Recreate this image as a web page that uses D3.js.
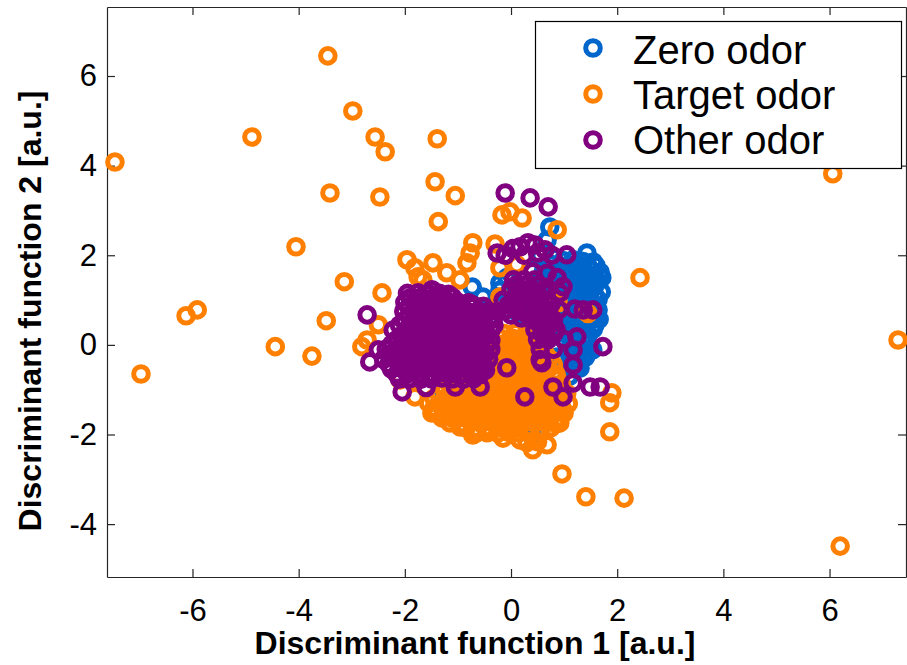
<!DOCTYPE html>
<html>
<head>
<meta charset="utf-8">
<script src="https://cdn.jsdelivr.net/npm/d3@7"></script>
<style>
  body { margin: 0; background: #fff; }
  text { font-family: "Liberation Sans", Arial, sans-serif; }
</style>
</head>
<body>
<svg id="chart" width="907" height="665"></svg>
<script>
var seriesNames = ['Zero odor', 'Target odor', 'Other odor'];
var xTicks = [-6, -4, -2, 0, 2, 4, 6];
var yTicks = [-4, -2, 0, 2, 4, 6];
var xLabel = 'Discriminant function 1 [a.u.]';
var yLabel = 'Discriminant function 2 [a.u.]';

// [function 1, function 2]
var zeroOdor = [
  [0.73,2.63],[0.68,2.34],[1.43,2.05],[1.71,1.5],[0.55,2.0],[0.75,1.8],
  [-0.73,1.29],[-0.53,1.07],[-0.55,0.85],[-0.21,1.38],[-0.08,1.5],[-0.21,1.22],[-0.28,0.88],[-0.4,0.6],
  [1.64,0.78],[1.54,-0.11],[0.87,-0.27],[0.9,-0.62],[1.43,-0.2],[1.24,-0.48],[0.55,0.11],[0.6,-0.15],
  [-1.3,-0.96],[0.36,-0.18],[0.79,-1.45],[0.41,-2.05],[0.2,-1.0],[0.5,-0.6],
  [0.6,1.45],[0.75,1.6],[0.72,1.3],[0.8,1.15],[0.62,1.75],[0.8,1.95],[0.6,1.1],
  [0.98,1.88],[1.17,1.9],[1.36,1.86],[1.55,1.85],
  [1.07,1.77],[1.26,1.78],[1.45,1.76],[1.6,1.77],
  [0.92,1.66],[1.1,1.68],[1.3,1.64],[1.5,1.67],[1.68,1.62],
  [0.98,1.55],[1.18,1.56],[1.38,1.54],[1.58,1.55],
  [0.85,1.44],[1.05,1.45],[1.24,1.42],[1.44,1.46],[1.62,1.4],
  [0.98,1.33],[1.18,1.34],[1.38,1.32],[1.58,1.33],
  [0.9,1.22],[1.1,1.2],[1.3,1.24],[1.5,1.21],[1.7,1.18],
  [0.98,1.11],[1.18,1.1],[1.38,1.12],[1.58,1.11],
  [0.88,1.0],[1.07,0.98],[1.26,1.02],[1.45,0.99],[1.64,1.01],
  [0.98,0.89],[1.18,0.9],[1.38,0.88],[1.58,0.89],
  [0.95,0.78],[1.15,0.8],[1.35,0.76],[1.55,0.8],
  [1.0,0.67],[1.2,0.68],[1.4,0.66],[1.6,0.67],
  [0.9,0.56],[1.1,0.55],[1.3,0.58],[1.5,0.54],[1.66,0.57],
  [1.0,0.45],[1.2,0.46],[1.4,0.44],[1.58,0.45],
  [0.95,0.34],[1.15,0.36],[1.35,0.32],[1.55,0.35],
  [1.05,0.23],[1.25,0.24],[1.45,0.22],
  [1.0,0.12],[1.2,0.14],[1.4,0.1],[1.2,0.01],[1.4,0.02],[1.1,-0.1],[1.3,-0.08],
  [1.1,-0.2],[1.3,-0.19],
  [1.0,-0.3],[1.2,-0.32],[1.4,-0.28],[1.05,-0.5],[1.3,-0.52],[1.1,-0.7],
  [0.4,1.7],[0.6,1.6],[0.5,1.3],[0.7,1.0],[0.4,0.9],[0.6,0.6],[0.3,0.6],[0.7,0.3],
  [0.45,0.35],[0.2,1.1],[-0.05,1.15],[0.1,0.75]
];

var targetOdor = [
  [-7.46,4.08],[-4.88,4.64],[-3.45,6.45],[-2.98,5.22],[-2.56,4.64],[-2.37,4.31],[-1.39,4.6],
  [-3.41,3.39],[-2.47,3.3],[-1.43,3.64],[-1.05,3.33],[-1.37,2.75],[-4.05,2.19],[-3.14,1.41],
  [-6.12,0.65],[-5.91,0.78],[-3.48,0.54],[-4.44,-0.04],[-3.75,-0.25],[-6.97,-0.65],[-2.43,1.16],
  [-1.96,1.9],[-1.81,1.72],[-1.47,1.83],[-0.72,2.28],[-0.17,2.9],[-0.02,2.97],[0.21,2.83],
  [0.87,2.57],[2.43,1.5],[6.06,3.82],[7.29,0.11],[6.2,-4.49],[2.13,-3.42],[1.41,-3.39],
  [0.96,-2.88],[1.86,-1.94],[1.86,-1.29],[1.9,-1.07],[-0.21,1.72],[-2.71,0.11],[-2.81,-0.04],
  [-2.5,0.45],[-2.09,-0.78],[-1.81,-1.16],[-1.49,-1.52],[-0.96,-1.83],[-0.72,-2.01],[-0.45,-1.96],
  [-0.15,-2.08],[0.17,-2.12],[0.41,-2.34],[0.68,-2.23],[0.92,-1.74],[0.98,-1.45],
  [-0.96,1.45],[-1.66,1.45],[-1.75,1.52],[-1.21,1.61],[-0.83,1.83],[-0.77,2.05],[0.11,1.79],
  [-0.3,2.25],[-0.21,1.07],[0.89,0.94],[1.4,0.75],[1.45,0.7],
  [-0.12,0.25],[0.08,0.27],[0.28,0.24],
  [-0.18,0.14],[0.02,0.15],[0.22,0.13],[0.42,0.14],
  [-0.28,0.03],[-0.08,0.05],[0.12,0.02],[0.32,0.04],[0.5,0.01],
  [-0.25,-0.08],[-0.05,-0.09],[0.15,-0.07],[0.35,-0.08],[0.55,-0.1],
  [-0.35,-0.2],[-0.15,-0.18],[0.05,-0.21],[0.25,-0.19],[0.45,-0.22],[0.65,-0.2],
  [-0.45,-0.31],[-0.25,-0.3],[-0.05,-0.32],[0.15,-0.31],[0.35,-0.29],[0.55,-0.32],[0.72,-0.31],
  [-0.6,-0.42],[-0.4,-0.44],[-0.2,-0.41],[0.0,-0.43],[0.2,-0.4],[0.4,-0.44],[0.6,-0.42],[0.8,-0.45],
  [-0.7,-0.53],[-0.5,-0.54],[-0.3,-0.52],[-0.1,-0.53],[0.1,-0.55],[0.3,-0.53],[0.5,-0.52],[0.7,-0.54],
  [-0.8,-0.64],[-0.6,-0.66],[-0.4,-0.63],[-0.2,-0.65],[0.0,-0.62],[0.2,-0.66],[0.4,-0.64],[0.6,-0.63],[0.85,-0.65],
  [-0.95,-0.75],[-0.75,-0.76],[-0.55,-0.74],[-0.35,-0.75],[-0.15,-0.77],[0.05,-0.75],[0.25,-0.74],
  [0.45,-0.76],[0.65,-0.75],[0.85,-0.76],
  [-1.1,-0.86],[-0.9,-0.88],[-0.7,-0.85],[-0.5,-0.87],[-0.3,-0.84],[-0.1,-0.88],[0.1,-0.86],[0.3,-0.85],
  [0.5,-0.88],[0.7,-0.86],[0.95,-0.87],
  [-1.25,-0.97],[-1.05,-0.98],[-0.85,-0.96],[-0.65,-0.97],[-0.45,-0.99],[-0.25,-0.97],[-0.05,-0.96],
  [0.15,-0.98],[0.35,-0.97],[0.55,-0.96],[0.75,-0.98],[0.95,-0.97],
  [-1.35,-1.08],[-1.15,-1.1],[-0.95,-1.07],[-0.75,-1.09],[-0.55,-1.06],[-0.35,-1.1],[-0.15,-1.08],
  [0.05,-1.07],[0.25,-1.1],[0.45,-1.08],[0.65,-1.06],[0.85,-1.09],[1.05,-1.08],
  [-1.45,-1.19],[-1.25,-1.2],[-1.05,-1.18],[-0.85,-1.19],[-0.65,-1.21],[-0.45,-1.19],[-0.25,-1.18],
  [-0.05,-1.2],[0.15,-1.19],[0.35,-1.18],[0.55,-1.2],[0.75,-1.19],[0.95,-1.21],
  [-1.55,-1.3],[-1.35,-1.32],[-1.15,-1.29],[-0.95,-1.31],[-0.75,-1.28],[-0.55,-1.32],[-0.35,-1.3],
  [-0.15,-1.29],[0.05,-1.31],[0.25,-1.3],[0.45,-1.32],[0.65,-1.28],[0.85,-1.3],[1.08,-1.31],
  [-1.45,-1.41],[-1.25,-1.42],[-1.05,-1.4],[-0.85,-1.41],[-0.65,-1.43],[-0.45,-1.41],[-0.25,-1.4],
  [-0.05,-1.42],[0.15,-1.41],[0.35,-1.4],[0.55,-1.42],[0.75,-1.41],[0.95,-1.43],
  [-1.4,-1.52],[-1.2,-1.54],[-1.0,-1.51],[-0.8,-1.53],[-0.6,-1.5],[-0.4,-1.54],[-0.2,-1.52],
  [0.0,-1.51],[0.2,-1.53],[0.4,-1.52],[0.6,-1.5],[0.8,-1.54],[1.0,-1.52],
  [-1.3,-1.63],[-1.1,-1.64],[-0.9,-1.62],[-0.7,-1.63],[-0.5,-1.65],[-0.3,-1.63],[-0.1,-1.62],
  [0.1,-1.64],[0.3,-1.63],[0.5,-1.62],[0.7,-1.64],[0.9,-1.63],
  [-1.15,-1.74],[-0.95,-1.76],[-0.75,-1.73],[-0.55,-1.75],[-0.35,-1.72],[-0.15,-1.76],[0.05,-1.74],
  [0.25,-1.73],[0.45,-1.75],[0.65,-1.74],[0.85,-1.76],
  [-0.85,-1.85],[-0.65,-1.86],[-0.45,-1.84],[-0.25,-1.85],[-0.05,-1.87],[0.15,-1.85],[0.35,-1.84],
  [0.55,-1.86],[0.75,-1.85],
  [-0.65,-1.96],[-0.45,-1.94],[-0.25,-1.97],[-0.05,-1.95],[0.15,-1.96],[0.35,-1.98],[0.55,-1.95],
  [0.3,-2.18],[0.5,-2.16]
];

var otherOdor = [
  [-0.11,3.39],[0.36,3.28],[0.7,3.08],
  [-0.26,2.05],[-0.11,2.0],[0.04,2.15],[0.17,2.19],[0.32,2.28],[0.45,2.23],[0.64,2.12],
  [0.77,2.0],[1.05,2.01],[0.25,2.0],[0.5,2.05],
  [0.41,1.63],[0.68,1.6],[0.87,1.5],[0.98,1.3],[0.68,1.23],[0.92,1.16],
  [1.2,0.8],[1.36,0.78],[1.54,0.78],[1.73,-0.04],[1.24,0.18],[1.17,-0.11],[1.17,-0.45],[1.17,-0.85],
  [0.79,-0.94],[1.49,-0.94],[1.68,-0.94],[0.98,-1.16],[0.26,-1.16],[0.55,-0.33],[0.58,-0.4],
  [-0.08,-0.51],
  [0.05,1.45],[0.25,1.45],[0.45,1.45],
  [0.1,1.34],[0.3,1.35],[0.5,1.33],
  [0.0,1.23],[0.2,1.23],[0.4,1.23],[0.6,1.23],
  [0.1,1.12],[0.3,1.11],[0.5,1.13],
  [-0.15,1.0],[0.05,1.0],[0.25,1.0],[0.45,1.0],[0.65,1.0],
  [-0.05,0.89],[0.15,0.9],[0.35,0.88],[0.55,0.89],[0.75,0.9],
  [-0.1,0.78],[0.1,0.78],[0.3,0.78],[0.5,0.78],[0.7,0.78],[0.9,0.78],
  [0.0,0.67],[0.3,0.68],[0.5,0.66],[0.7,0.67],
  [0.2,0.6],[0.4,0.56],[0.6,0.56],[0.8,0.56],
  [0.55,0.45],[0.75,0.46],
  [0.45,0.34],[0.65,0.34],[0.85,0.34],
  [0.6,0.23],[0.8,0.24],
  [0.5,0.12],[0.7,0.12],[1.0,0.12],[0.55,-0.1],[0.8,-0.1],
  [-2.71,0.67],[-2.5,-0.11],[-2.66,-0.38],[-2.05,-1.05],[-1.49,1.23],[-1.05,0.94],[-0.72,0.89],
  [-1.05,-0.94],[-0.58,-0.94],[-1.6,-0.95],[-2.22,0.33],
  [-1.95,1.15],[-1.75,1.16],[-1.55,1.14],[-1.35,1.15],[-1.18,1.13],
  [-1.9,1.05],[-1.7,1.06],[-1.5,1.04],[-1.3,1.05],[-1.1,1.06],
  [-2.0,0.95],[-1.8,0.96],[-1.6,0.94],[-1.4,0.95],[-1.2,0.97],[-1.0,0.95],[-0.8,0.94],
  [-1.92,0.85],[-1.72,0.86],[-1.52,0.84],[-1.32,0.85],[-1.12,0.86],[-0.92,0.84],[-0.72,0.85],[-0.52,0.86],
  [-2.02,0.75],[-1.82,0.76],[-1.62,0.74],[-1.42,0.75],[-1.22,0.77],[-1.02,0.75],[-0.82,0.74],
  [-0.62,0.76],[-0.42,0.75],
  [-1.92,0.65],[-1.72,0.66],[-1.52,0.64],[-1.32,0.65],[-1.12,0.66],[-0.92,0.64],[-0.72,0.65],
  [-0.52,0.66],[-0.32,0.64],
  [-2.0,0.55],[-1.8,0.54],[-1.6,0.56],[-1.4,0.55],[-1.2,0.53],[-1.0,0.55],[-0.8,0.56],[-0.6,0.54],[-0.4,0.55],
  [-2.1,0.44],[-1.9,0.45],[-1.7,0.43],[-1.5,0.44],[-1.3,0.45],[-1.1,0.43],[-0.9,0.44],[-0.7,0.45],
  [-0.5,0.43],[-0.32,0.44],
  [-1.95,0.33],[-1.75,0.34],[-1.55,0.32],[-1.35,0.33],[-1.15,0.35],[-0.95,0.33],[-0.75,0.32],
  [-0.55,0.34],[-0.38,0.33],
  [-2.05,0.22],[-1.85,0.23],[-1.65,0.21],[-1.45,0.22],[-1.25,0.24],[-1.05,0.22],[-0.85,0.21],
  [-0.65,0.23],[-0.45,0.22],
  [-2.15,0.12],[-1.95,0.13],[-1.75,0.11],[-1.55,0.12],[-1.35,0.14],[-1.15,0.12],[-0.95,0.11],
  [-0.75,0.13],[-0.55,0.12],[-0.38,0.1],
  [-2.25,0.01],[-2.05,0.02],[-1.85,0.0],[-1.65,0.01],[-1.45,0.03],[-1.25,0.01],[-1.05,0.0],
  [-0.85,0.02],[-0.65,0.01],[-0.45,0.0],
  [-2.35,-0.1],[-2.15,-0.09],[-1.95,-0.11],[-1.75,-0.1],[-1.55,-0.08],[-1.35,-0.1],[-1.15,-0.11],
  [-0.95,-0.09],[-0.75,-0.1],[-0.55,-0.12],[-0.38,-0.1],
  [-2.3,-0.21],[-2.1,-0.2],[-1.9,-0.22],[-1.7,-0.21],[-1.5,-0.19],[-1.3,-0.21],[-1.1,-0.22],
  [-0.9,-0.2],[-0.7,-0.21],[-0.5,-0.23],
  [-2.4,-0.32],[-2.2,-0.31],[-2.0,-0.33],[-1.8,-0.32],[-1.6,-0.3],[-1.4,-0.32],[-1.2,-0.33],
  [-1.0,-0.31],[-0.8,-0.32],[-0.6,-0.34],[-0.42,-0.32],
  [-2.3,-0.43],[-2.1,-0.42],[-1.9,-0.44],[-1.7,-0.43],[-1.5,-0.41],[-1.3,-0.43],[-1.1,-0.44],
  [-0.9,-0.42],[-0.7,-0.43],[-0.52,-0.45],
  [-2.25,-0.54],[-2.05,-0.53],[-1.85,-0.55],[-1.65,-0.54],[-1.45,-0.52],[-1.25,-0.54],[-1.05,-0.55],
  [-0.85,-0.53],[-0.65,-0.54],[-0.48,-0.56],
  [-2.15,-0.65],[-1.95,-0.64],[-1.75,-0.66],[-1.55,-0.65],[-1.35,-0.63],[-1.15,-0.65],[-0.95,-0.66],
  [-0.75,-0.64],[-0.58,-0.66],
  [-2.1,-0.76],[-1.9,-0.75],[-1.7,-0.77],[-1.5,-0.76],[-1.3,-0.74],[-1.1,-0.76],[-0.9,-0.77],[-0.7,-0.75]
];

var colours = ['#0066cc', '#ff8000', '#800080'];
var series = [zeroOdor, targetOdor, otherOdor];

var width = 907,
  height = 665,
  margin = { top: 7, right: 1, bottom: 88, left: 107 },
  markerRadius = 7.3,
  axisColour = '#262626';

var svg = d3.select('#chart');

svg.append('rect')
  .attr('width', width)
  .attr('height', height)
  .attr('fill', '#fff');

var x = d3.scaleLinear()
  .domain([-7.61, 7.44])
  .range([margin.left, width - margin.right]);

var y = d3.scaleLinear()
  .domain([-5.18, 7.54])
  .range([height - margin.bottom, margin.top]);

var fmt = function(d) { return String(d); };

// box with inward ticks on all four sides
var gBottom = svg.append('g')
  .attr('transform', 'translate(0,' + y.range()[0] + ')')
  .call(d3.axisBottom(x).tickValues(xTicks).tickSizeInner(-8).tickSizeOuter(0).tickPadding(22).tickFormat(fmt));
var gTop = svg.append('g')
  .attr('transform', 'translate(0,' + y.range()[1] + ')')
  .call(d3.axisTop(x).tickValues(xTicks).tickSizeInner(-8).tickSizeOuter(0).tickFormat(''));
var gLeft = svg.append('g')
  .attr('transform', 'translate(' + x.range()[0] + ',0)')
  .call(d3.axisLeft(y).tickValues(yTicks).tickSizeInner(-8).tickSizeOuter(0).tickPadding(10).tickFormat(fmt));
var gRight = svg.append('g')
  .attr('transform', 'translate(' + x.range()[1] + ',0)')
  .call(d3.axisRight(y).tickValues(yTicks).tickSizeInner(-8).tickSizeOuter(0).tickFormat(''));

[gBottom, gTop, gLeft, gRight].forEach(function(g) {
  g.attr('font-family', null).attr('font-size', null);
  g.selectAll('path, line').attr('stroke', axisColour).attr('stroke-width', 1.2);
  g.selectAll('text').attr('fill', '#000').style('font-size', '31px');
});

// points, drawn in legend order
series.forEach(function(data, i) {
  svg.append('g')
    .selectAll('circle')
    .data(data)
    .enter()
    .append('circle')
    .attr('cx', function(d) { return x(d[0]); })
    .attr('cy', function(d) { return y(d[1]); })
    .attr('r', markerRadius)
    .attr('fill', 'none')
    .attr('stroke', colours[i])
    .attr('stroke-width', 5);
});

svg.append('text')
  .attr('x', 475)
  .attr('y', 654)
  .attr('text-anchor', 'middle')
  .style('font-size', '32px')
  .style('font-weight', 'bold')
  .text(xLabel);

svg.append('text')
  .attr('transform', 'translate(41,311) rotate(-90)')
  .attr('text-anchor', 'middle')
  .style('font-size', '32px')
  .style('font-weight', 'bold')
  .text(yLabel);

// legend
var legend = svg.append('g');
legend.append('rect')
  .attr('x', 535.5)
  .attr('y', 21.5)
  .attr('width', 366)
  .attr('height', 147)
  .attr('fill', '#fff')
  .attr('stroke', '#000')
  .attr('stroke-width', 1.2);

var rowsY = [48, 94, 140],
  textY = [64, 109, 154];

seriesNames.forEach(function(name, i) {
  legend.append('circle')
    .attr('cx', 593)
    .attr('cy', rowsY[i])
    .attr('r', markerRadius)
    .attr('fill', 'none')
    .attr('stroke', colours[i])
    .attr('stroke-width', 5);
  legend.append('text')
    .attr('x', 633)
    .attr('y', textY[i])
    .style('font-size', '40px')
    .text(name);
});
</script>
</body>
</html>
